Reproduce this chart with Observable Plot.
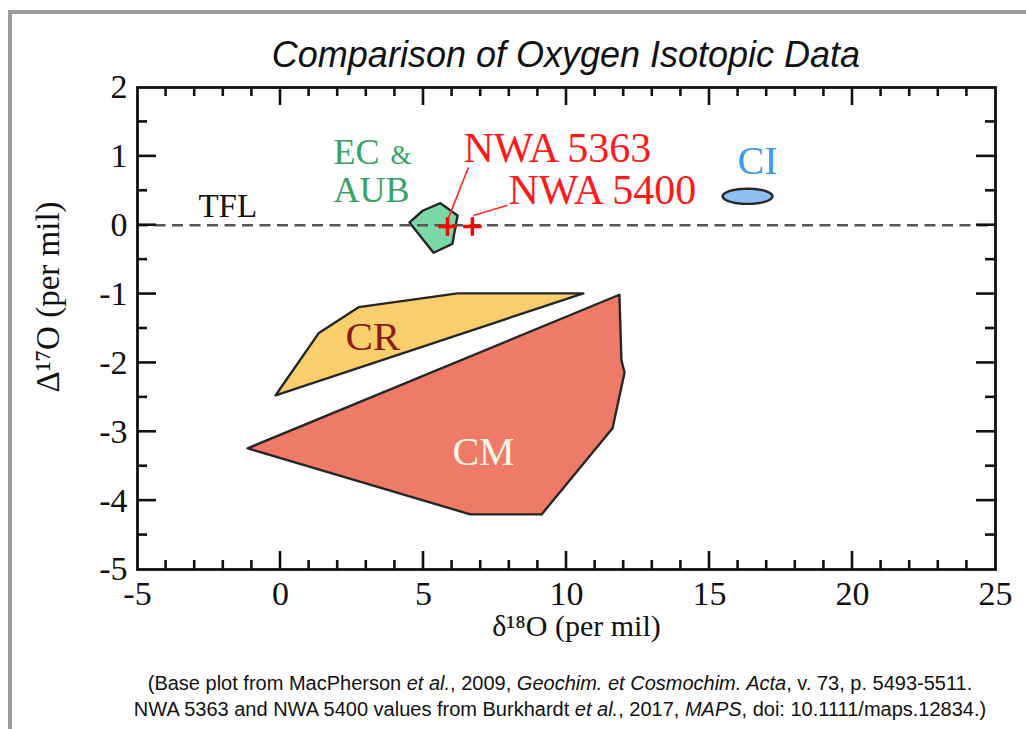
<!DOCTYPE html>
<html><head><meta charset="utf-8">
<script src="https://cdn.jsdelivr.net/npm/d3@7"></script>
<script src="https://cdn.jsdelivr.net/npm/@observablehq/plot@0.6"></script>
<style>
html,body{margin:0;padding:0;background:#fff;}
#wrap{position:relative;width:1026px;height:729px;overflow:hidden;background:#fff;}
#border{position:absolute;left:8px;top:10px;width:1100px;height:800px;border-left:4px solid #9c9c9c;border-top:4px solid #9c9c9c;}
#title{position:absolute;left:137px;width:858px;top:36px;text-align:center;font:italic 36px "Liberation Sans",Arial,sans-serif;line-height:38px;color:#111;}
#chart{position:absolute;left:0;top:78px;}
#caption{position:absolute;left:60px;width:1000px;top:670px;text-align:center;font:20px "Liberation Sans",Arial,sans-serif;line-height:26px;color:#111;}
#svgsrc{display:none;}
</style></head>
<body>
<div id="wrap">
<div id="border"></div>
<div id="title">Comparison of Oxygen Isotopic Data</div>
<div id="chart"></div>
<div id="caption">(Base plot from MacPherson <i>et al.</i>, 2009, <i>Geochim. et Cosmochim. Acta</i>, v. 73, p. 5493-5511.<br>NWA 5363 and NWA 5400 values from Burkhardt <i>et al.</i>, 2017, <i>MAPS</i>, doi: 10.1111/maps.12834.)</div>
</div>
<div id="svgsrc"></div>
<script>
// ---- data (δ18O, Δ17O in per mil) ----
const ecX = [4.51, 4.97, 5.59, 6.19, 6.01, 5.35];
const ecY = [0.04, 0.21, 0.32, 0.14, -0.27, -0.40];
const crX = [-0.17, 1.33, 2.73, 6.19, 10.59];
const crY = [-2.47, -1.57, -1.19, -0.99, -0.99];
const cmX = [-1.15, 11.85, 11.92, 12.03, 11.61, 9.13, 6.64];
const cmY = [-3.24, -1.01, -1.96, -2.14, -2.95, -4.20, -4.20];
const ciCenter = [16.33, 0.42];
const ciRadii = [0.87, 0.11];
const nwaNames = ["NWA 5363", "NWA 5400"];
const nwaX = [5.84, 6.71];
const nwaY = [-0.02, -0.02];
const nwaLabelX = [6.40, 7.97];
const nwaLabelY = [1.11, 0.50];
const leaderX1 = [5.84, 6.75];
const leaderY1 = [0.07, 0.14];
const leaderX2 = [6.57, 7.94];
const leaderY2 = [0.84, 0.29];
const groupNames = ["EC", "&", "AUB", "CI", "TFL", "CR", "CM"];
const groupLabelX = [1.85, 3.85, 1.85, 15.98, -2.87, 2.27, 6.01];
const groupLabelY = [1.05, 1.01, 0.51, 0.93, 0.27, -1.62, -3.30];
const xTickLabels = [-5, 0, 5, 10, 15, 20, 25];
const yTickLabels = [2, 1, 0, -1, -2, -3, -4, -5];
const xMajorTicks = [0, 5, 10, 15, 20];
const xMinorTicks = [-4, -3, -2, -1, 1, 2, 3, 4, 6, 7, 8, 9, 11, 12, 13, 14, 16, 17, 18, 19, 21, 22, 23, 24];
const yMajorTicks = [1, 0, -1, -2, -3, -4];
const yMinorTicks = [1.5, 0.5, -0.5, -1.5, -2.5, -3.5, -4.5];

// ---- layout ----
const W = 1026, H = 577, mL = 137, mR = 31, mT = 9, mB = 86;
const xDom = [-5, 25], yDom = [-5, 2];
const pxX = (W - mL - mR) / (xDom[1] - xDom[0]);
const pxY = (H - mT - mB) / (yDom[1] - yDom[0]);
const serif = '"Liberation Serif","Times New Roman",serif';

const poly = (xs, ys) => xs.map((x, i) => ({x, y: ys[i]}));
const ecPoly = poly(ecX, ecY), crPoly = poly(crX, crY), cmPoly = poly(cmX, cmY);
const ciPoly = d3.range(64).map(i => {
  const t = i / 64 * 2 * Math.PI;
  return {x: ciCenter[0] + ciRadii[0] * Math.cos(t), y: ciCenter[1] + ciRadii[1] * Math.sin(t)};
});
const nwa = nwaNames.map((n, i) => ({n, x: nwaX[i], y: nwaY[i], lx: nwaLabelX[i], ly: nwaLabelY[i],
  x1: leaderX1[i], y1: leaderY1[i], x2: leaderX2[i], y2: leaderY2[i]}));
const lab = groupNames.map((t, i) => ({t, x: groupLabelX[i], y: groupLabelY[i]}));
const L = name => lab.filter(d => d.t === name);

const edge = "#262626";
const polyMark = (data, fill) => Plot.line(data, {x: "x", y: "y", curve: "linear-closed", fill, stroke: edge, strokeWidth: 2.4, strokeLinejoin: "round"});
// inward ticks drawn as thin filled bars (2.6 px wide)
const tw = 1.3;
const xTicks = (data, yBase, len) => Plot.rect(data.map(v => ({v})), {
  x1: d => d.v - tw / pxX, x2: d => d.v + tw / pxX,
  y1: () => yBase, y2: () => yBase + len / pxY, fill: "#111"});
const yTicks = (data, xBase, len) => Plot.rect(data.map(v => ({v})), {
  y1: d => d.v - tw / pxY, y2: d => d.v + tw / pxY,
  x1: () => xBase, x2: () => xBase + len / pxX, fill: "#111"});

const chart = Plot.plot({
  width: W, height: H, marginLeft: mL, marginRight: mR, marginTop: mT, marginBottom: mB,
  x: {domain: xDom, axis: null},
  y: {domain: yDom, axis: null},
  style: {background: "transparent", overflow: "visible"},
  marks: [
    polyMark(crPoly, "#f8cf6c"),
    polyMark(cmPoly, "#ee7b68"),
    polyMark(ecPoly, "#7bd9a7"),
    polyMark(ciPoly, "#8ebff0"),
    Plot.ruleY([0], {stroke: "#555", strokeWidth: 2.5, strokeDasharray: "11,6.5"}),
    xTicks(xMinorTicks, yDom[0], 9),
    xTicks(xMajorTicks, yDom[0], 18),
    xTicks(xMinorTicks, yDom[1], -9),
    xTicks(xMajorTicks, yDom[1], -18),
    yTicks(yMinorTicks, xDom[0], 10),
    yTicks(yMajorTicks, xDom[0], 19),
    yTicks(yMinorTicks, xDom[1], -10),
    yTicks(yMajorTicks, xDom[1], -19),
    Plot.frame({stroke: "#111", strokeWidth: 2.8}),
    Plot.link(nwa, {x1: "x1", y1: "y1", x2: "x2", y2: "y2", stroke: "#ff2a2a", strokeWidth: 1.6}),
    Plot.dot(nwa, {x: "x", y: "y", symbol: "plus", r: 6, stroke: "#ff0000", strokeWidth: 3.5}),
    Plot.text(nwa, {x: "lx", y: "ly", text: "n", textAnchor: "start", fill: "#ff1a1a", fontSize: 42, fontFamily: serif}),
    Plot.text(L("EC"), {x: "x", y: "y", text: "t", textAnchor: "start", fill: "#35a463", fontSize: 36, fontFamily: serif}),
    Plot.text(L("&"), {x: "x", y: "y", text: "t", textAnchor: "start", fill: "#35a463", fontSize: 27, fontFamily: serif}),
    Plot.text(L("AUB"), {x: "x", y: "y", text: "t", textAnchor: "start", fill: "#35a463", fontSize: 36, fontFamily: serif}),
    Plot.text(L("CI"), {x: "x", y: "y", text: "t", textAnchor: "start", fill: "#3d9be9", fontSize: 40, fontFamily: serif}),
    Plot.text(L("TFL"), {x: "x", y: "y", text: "t", textAnchor: "start", fill: "#111", fontSize: 33, fontFamily: serif}),
    Plot.text(L("CR"), {x: "x", y: "y", text: "t", textAnchor: "start", fill: "#8a1c10", fontSize: 41, fontFamily: serif}),
    Plot.text(L("CM"), {x: "x", y: "y", text: "t", textAnchor: "start", fill: "#fff6e2", fontSize: 40, fontFamily: serif}),
    Plot.text(xTickLabels, {x: d => d, text: d => String(d), frameAnchor: "bottom", dy: 35, fill: "#111", fontSize: 34, fontFamily: serif}),
    Plot.text(yTickLabels, {y: d => d, text: d => String(d), frameAnchor: "left", textAnchor: "end", dx: -10, fill: "#111", fontSize: 34, fontFamily: serif}),
    Plot.text(["δ¹⁸O (per mil)"], {frameAnchor: "bottom", dx: 10, dy: 66, fill: "#111", fontSize: 30, fontFamily: serif}),
    Plot.text(["Δ¹⁷O (per mil)"], {frameAnchor: "left", rotate: -90, dx: -89, dy: 64, fill: "#111", fontSize: 33, fontFamily: serif})
  ]
});
document.getElementById("chart").appendChild(chart);
document.getElementById("svgsrc").textContent = chart.outerHTML.length;
</script>
</body></html>
